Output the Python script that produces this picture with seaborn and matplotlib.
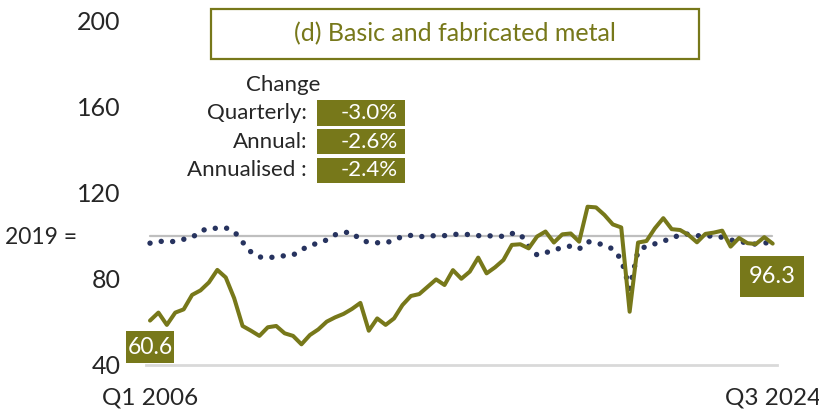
import numpy as np
import pandas as pd
import matplotlib
matplotlib.use("Agg")
import matplotlib.pyplot as plt
from matplotlib.patches import Rectangle
import seaborn as sns

# quarterly index, 2019 = 100, Q1 2006 .. Q3 2024
quarters = [f"Q{q} {y}" for y in range(2006, 2025) for q in range(1, 5)][:75]

metal = [60.6, 64.3, 58.6, 64.3, 65.8, 72.5, 74.6, 78.3, 84.1, 80.6, 71.0, 58.1, 55.9,
         53.5, 57.5, 58.1, 54.7, 53.5, 49.6, 53.9, 56.5, 60.1, 62.1, 63.7, 66.0,
         68.8, 55.9, 61.6, 58.6, 61.6, 67.8, 72.0, 72.9, 76.3, 79.7, 77.1, 84.0, 80.0,
         83.3, 89.8, 82.5, 85.3, 88.7, 95.7, 96.0, 94.1, 99.6, 101.9, 96.8, 100.6,
         101.0, 97.2, 113.4, 113.1, 109.6, 105.2, 103.8, 64.7, 96.8, 97.5, 103.4, 108.1, 103.0,
         102.6, 100.3, 96.9, 100.8, 101.4, 102.3, 94.9, 98.9, 96.5, 96.1, 99.3, 96.3]

total = [96.5, 97.4, 97.2, 97.3, 98.3, 99.1, 102.1, 103.4, 103.4, 103.6, 102.0, 97.0, 92.4,
         90.1, 89.8, 90.1, 90.7, 91.0, 93.4, 95.5, 96.5, 98.0, 100.4, 101.5, 101.5,
         98.0, 96.9, 96.7, 96.7, 97.8, 99.7, 100.1, 99.4, 100.0, 99.9, 100.0, 100.6, 100.6,
         100.5, 100.0, 99.8, 100.0, 99.6, 101.0, 100.8, 95.0, 91.0, 92.0, 93.5, 94.3,
         95.2, 93.8, 97.2, 96.7, 95.5, 93.8, 89.0, 75.5, 93.0, 95.2, 96.2, 97.6, 98.4,
         100.7, 100.7, 100.0, 99.7, 99.9, 99.2, 98.0, 97.2, 96.7, 96.0, 96.6, 96.8]

change_labels = ["Quarterly:", "Annual:", "Annualised :"]
change_values = ["-3.0%", "-2.6%", "-2.4%"]
title = "(d) Basic and fabricated metal"
yticks = [40, 80, 120, 160, 200]

olive = "#77781A"
navy = "#27335F"

df = pd.DataFrame({"idx": range(len(metal)), "metal": metal, "total": total})

sns.set_style("white")
plt.rcParams["font.family"] = ["Lato", "DejaVu Sans"]

W, H = 820, 413
fig = plt.figure(figsize=(W / 100, H / 100), dpi=100)


def fx(px):
    return px / W


def fy(py):
    return 1 - py / H


ax = fig.add_axes([fx(145.8), fy(365), fx(776.9) - fx(145.8), fy(20) - fy(365)])

ax.axhline(100, xmin=0.0066, xmax=0.993, color="#BFBFBF", lw=1.6, zorder=1)
sns.lineplot(data=df, x="idx", y="total", ax=ax, color=navy, lw=3.9,
             linestyle=(0, (0.01, 2.1)), zorder=2)
ax.lines[-1].set_dash_capstyle("round")
sns.lineplot(data=df, x="idx", y="metal", ax=ax, color=olive, lw=2.9, zorder=3)

ax.set_xlim(-0.5, len(metal) - 0.5)
ax.set_ylim(40, 200)
ax.set_yticks(yticks)
ax.set_yticklabels([str(t) for t in yticks], fontsize=18)
ax.tick_params(axis="y", length=0, pad=18)
ax.set_xticks([0, len(metal) - 1])
ax.set_xticklabels([quarters[0], quarters[-1]], fontsize=17.5)
ax.tick_params(axis="x", length=0, pad=16)
ax.set_xlabel("")
ax.set_ylabel("")
for s in ["top", "right", "left"]:
    ax.spines[s].set_visible(False)
ax.spines["bottom"].set_color("#D9D9D9")
ax.spines["bottom"].set_linewidth(2)

fig.text(fx(5), fy(237), "2019 =", fontsize=16.5, va="center", ha="left")

# title box
fig.patches.append(Rectangle((fx(211.5), fy(59)), fx(699) - fx(211.5), fy(9) - fy(59),
                             transform=fig.transFigure, fill=False, ec=olive, lw=1.6))
fig.text(fx(455), fy(34), title, fontsize=18, color=olive, ha="center", va="center")

# change panel
fig.text(fx(283), fy(85), "Change", fontsize=16, ha="center", va="center")
rows = [(100, 126), (129, 154), (158, 183)]
for (top, bot), lab, val in zip(rows, change_labels, change_values):
    fig.patches.append(Rectangle((fx(317), fy(bot)), fx(405) - fx(317), fy(top) - fy(bot),
                                 transform=fig.transFigure, color=olive, lw=0))
    mid = (top + bot) / 2
    fig.text(fx(307), fy(mid), lab, fontsize=16, ha="right", va="center")
    fig.text(fx(398), fy(mid), val, fontsize=16, ha="right", va="center", color="white")

# first / last value boxes
fig.patches.append(Rectangle((fx(126), fy(363)), fx(174) - fx(126), fy(331) - fy(363),
                             transform=fig.transFigure, color=olive, lw=0, zorder=5))
fig.text(fx(150), fy(347), f"{metal[0]:.1f}", fontsize=16.5, color="white",
         ha="center", va="center", zorder=6)
fig.patches.append(Rectangle((fx(740), fy(297)), fx(804) - fx(740), fy(256) - fy(297),
                             transform=fig.transFigure, color=olive, lw=0, zorder=5))
fig.text(fx(772), fy(276.5), f"{metal[-1]:.1f}", fontsize=17, color="white",
         ha="center", va="center", zorder=6)

fig.savefig("out.png", dpi=100)
